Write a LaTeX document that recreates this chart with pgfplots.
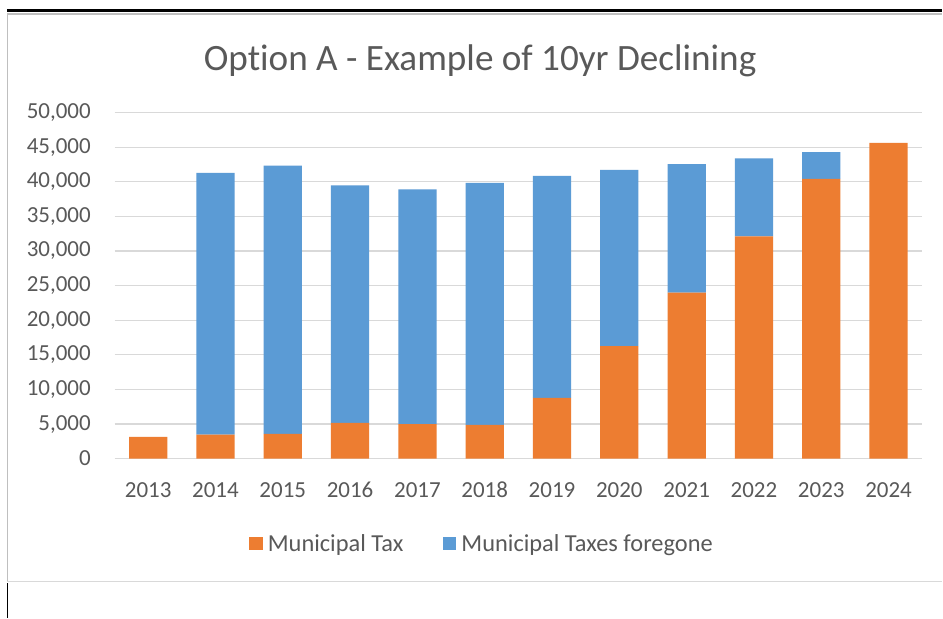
\documentclass[border=0pt]{standalone}
\usepackage{pgfplots}
\pgfplotsset{compat=1.18}
\usepackage{fontspec}
\setmainfont{Carlito}[Ligatures=NoCommon]
\definecolor{xorange}{HTML}{ED7D31}
\definecolor{xblue}{HTML}{5B9BD5}
\definecolor{xgrid}{HTML}{D9D9D9}
\definecolor{xframe}{HTML}{BFBFBF}
\definecolor{xtext}{HTML}{595959}
\pgfplotstableread{
x tax foregone
0 3150 0
1 3470 37830
2 3560 38790
3 5150 34350
4 5000 33900
5 4860 34990
6 8760 32100
7 16270 25460
8 24000 18550
9 32100 11300
10 40430 3850
11 45620 0
}\datatable
\begin{document}
\begin{tikzpicture}
\fill[white] (0pt,0pt) rectangle (943pt,619pt);
% frame lines
\draw[xframe, line width=1.2pt] (7.3pt,37.3pt) -- (7.3pt,605pt) -- (942.4pt,605pt);
\draw[xgrid, line width=1.2pt] (7.3pt,37.3pt) -- (942.4pt,37.3pt);
\draw[black, line width=2.8pt] (7.3pt,608.5pt) -- (942.4pt,608.5pt);
\draw[black, line width=1.5pt] (7.7pt,0.8pt) -- (7.7pt,35.5pt);
% title
\node[anchor=base, font=\fontsize{37.2}{44}\selectfont, text=xtext, inner sep=0pt] at (480.5pt,548.3pt) {Option A - Example of 10yr Declining};
\begin{axis}[
  at={(114.6pt,160pt)}, anchor=south west,
  scale only axis, width=808.4pt, height=346.3pt,
  ybar stacked, bar width=38.3pt,
  xmin=-0.5, xmax=11.5, ymin=0, ymax=50000,
  xtick={0,...,11},
  xticklabels={2013,2014,2015,2016,2017,2018,2019,2020,2021,2022,2023,2024},
  ytick={0,5000,...,50000},
  scaled y ticks=false,
  /pgf/number format/assume math mode=true,
  yticklabel={\pgfmathprintnumber[fixed,1000 sep={,}]{\tick}},
  ymajorgrids, grid style={xgrid, line width=1.2pt},
  axis line style={draw=none},
  major tick length=0pt,
  tick label style={font=\fontsize{23}{27}\selectfont, text=xtext, inner sep=0pt},
  yticklabel style={anchor=east, xshift=-23.6pt},
  xticklabel style={anchor=base, yshift=-39.3pt},
  legend columns=2,
  legend style={at={(0.4551,-0.2455)}, anchor=center, draw=none, fill=none,
    font=\fontsize{24.4}{29}\selectfont, text=xtext,
    /tikz/every even column/.append style={column sep=37.6pt}},
  legend image code/.code={\fill[#1] (0pt,-6.8pt) rectangle (13.5pt,6.8pt); \path (16.5pt,0pt);},
]
\addplot[fill=xorange, draw=none] table[x=x, y=tax] {\datatable};
\addplot[fill=xblue, draw=none] table[x=x, y=foregone] {\datatable};
\legend{Municipal Tax, Municipal Taxes foregone}
\end{axis}
\end{tikzpicture}
\end{document}
